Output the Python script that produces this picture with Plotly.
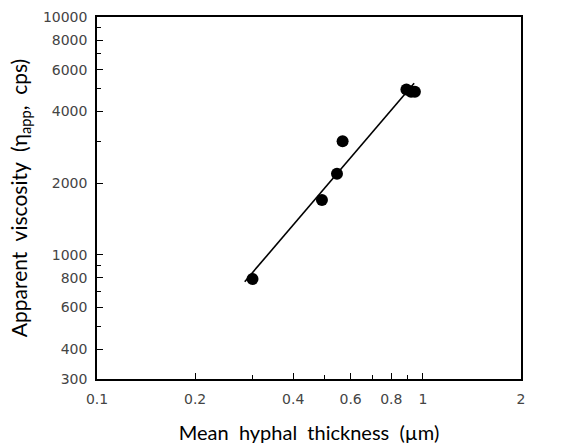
import plotly.graph_objects as go

# Data
thickness = [0.30, 0.49, 0.545, 0.567, 0.89, 0.92, 0.945]
viscosity = [790, 1700, 2190, 3000, 4950, 4850, 4850]
fit_x = [0.284, 0.94]
fit_y = [770, 5260]

x_tickvals = [0.1, 0.2, 0.4, 0.6, 0.8, 1, 2]
x_ticktext = ["0.1", "0.2", "0.4", "0.6", "0.8", "1", "2"]
x_minor = [0.3, 0.5, 0.7, 0.9]
y_tickvals = [300, 400, 600, 800, 1000, 2000, 4000, 6000, 8000, 10000]
y_ticktext = ["300", "400", "600", "800", "1000", "2000", "4000", "6000", "8000", "10000"]
y_minor = [500, 700, 900, 3000, 5000, 7000, 9000]

fig = go.Figure()
fig.add_trace(go.Scatter(x=fit_x, y=fit_y, mode="lines",
                         line=dict(color="black", width=1.6), showlegend=False))
fig.add_trace(go.Scatter(x=thickness, y=viscosity, mode="markers",
                         marker=dict(color="black", size=12), showlegend=False))

axis_common = dict(type="log", showgrid=False, zeroline=False, showline=True,
                   linecolor="black", linewidth=1.5, mirror=True, automargin=False,
                   ticks="inside", ticklen=6, tickwidth=1.2, tickcolor="black",
                   tickfont=dict(family="DejaVu Sans", size=14, color="#444"))

fig.update_xaxes(**axis_common, range=[-1, 0.301],
                 tickmode="array", tickvals=x_tickvals, ticktext=x_ticktext,
                 ticklabelstandoff=6,
                 minor=dict(tickvals=x_minor, ticks="inside", ticklen=4, tickcolor="black"),
                 title=dict(text="Mean&nbsp; hyphal&nbsp; thickness&nbsp; (µm)", standoff=20,
                            font=dict(family="Lato", size=20, color="black")))
fig.update_yaxes(**axis_common, range=[2.4771, 4],
                 tickmode="array", tickvals=y_tickvals, ticktext=y_ticktext,
                 ticklabelstandoff=5,
                 minor=dict(tickvals=y_minor, ticks="inside", ticklen=4, tickcolor="black"),
                 title=dict(text="Apparent&nbsp; viscosity&nbsp; (η<sub>app</sub>,&nbsp; cps)", standoff=10,
                            font=dict(family="Lato", size=21, color="black")))

fig.update_layout(width=561, height=446, margin=dict(l=97, r=40, t=17, b=67),
                  plot_bgcolor="white", paper_bgcolor="white")
fig.write_html("out.html")
